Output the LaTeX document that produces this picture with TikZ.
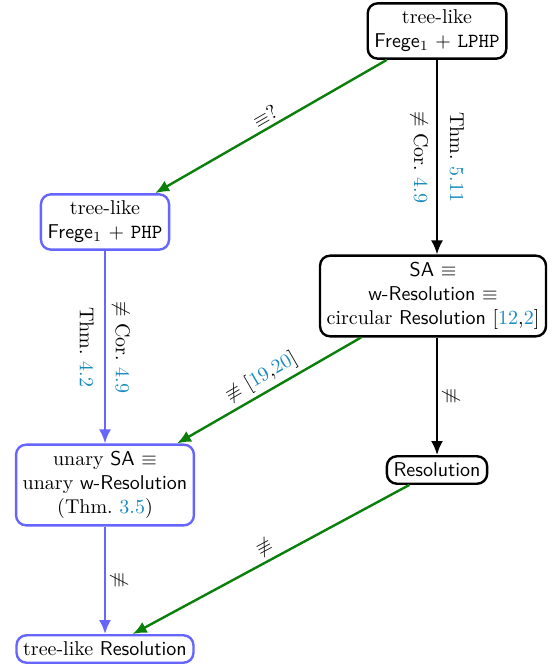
\documentclass[tikz,border=0pt]{standalone}
\usetikzlibrary{arrows.meta}
\definecolor{citec}{RGB}{25,140,190}
\definecolor{bluec}{RGB}{102,102,255}
\definecolor{greenc}{RGB}{10,128,10}
\newcommand{\cit}[1]{\textcolor{citec}{#1}}
\begin{document}
\begin{tikzpicture}[x=0.5pt,y=-0.5pt,
  box/.style={draw, line width=1.2pt, rounded corners=5pt, align=center, fill=white},
  bbox/.style={box, draw=black},
  ubox/.style={box, draw=bluec},
  edge/.style={line width=1.2pt, -{Latex[length=7pt,width=6pt]}},
  bedge/.style={edge, draw=black},
  uedge/.style={edge, draw=bluec},
  gedge/.style={edge, draw=greenc},
  lab/.style={midway, sloped, allow upside down, align=center, inner sep=2pt},
  glab/.style={midway, sloped, above, align=center, inner sep=2pt}]
\useasboundingbox (0,0) rectangle (552,667);
\node[bbox] (top) at (437,31) {tree-like\\ \textsf{Frege}$_1$ + \texttt{LPHP}};
\node[ubox] (php) at (105,222) {tree-like\\ \textsf{Frege}$_1$ + \texttt{PHP}};
\node[bbox] (sa) at (433,296) {\textsf{SA} $\equiv$\\ \textsf{w-Resolution} $\equiv$\\ circular \textsf{Resolution} [\cit{12},\cit{2}]};
\node[ubox] (usa) at (105,485) {unary \textsf{SA} $\equiv$\\ unary \textsf{w-Resolution}\\ (Thm.~\cit{3.5})};
\node[bbox] (res) at (437,470) {\textsf{Resolution}};
\node[ubox] (tres) at (105,649) {tree-like \textsf{Resolution}};

\draw[bedge] (top) -- node[lab] {Thm.~\cit{5.11}\\[6pt] $\not\equiv$ Cor.~\cit{4.9}} (top |- sa.north);
\draw[gedge] (top) -- node[glab] {$\equiv$?} (php);
\draw[uedge] (php) -- node[lab] {$\not\equiv$ Cor.~\cit{4.9}\\[6pt] Thm.~\cit{4.2}} (usa);
\draw[gedge] (sa) -- node[glab] {$\not\equiv$ [\cit{19},\cit{20}]} (usa);
\draw[bedge] (sa.south -| res) -- node[lab, above] {$\not\equiv$} (res);
\draw[uedge] (usa) -- node[lab, above] {$\not\equiv$} (tres);
\draw[gedge] (res) -- node[glab] {$\not\equiv$} (tres);
\end{tikzpicture}
\end{document}
